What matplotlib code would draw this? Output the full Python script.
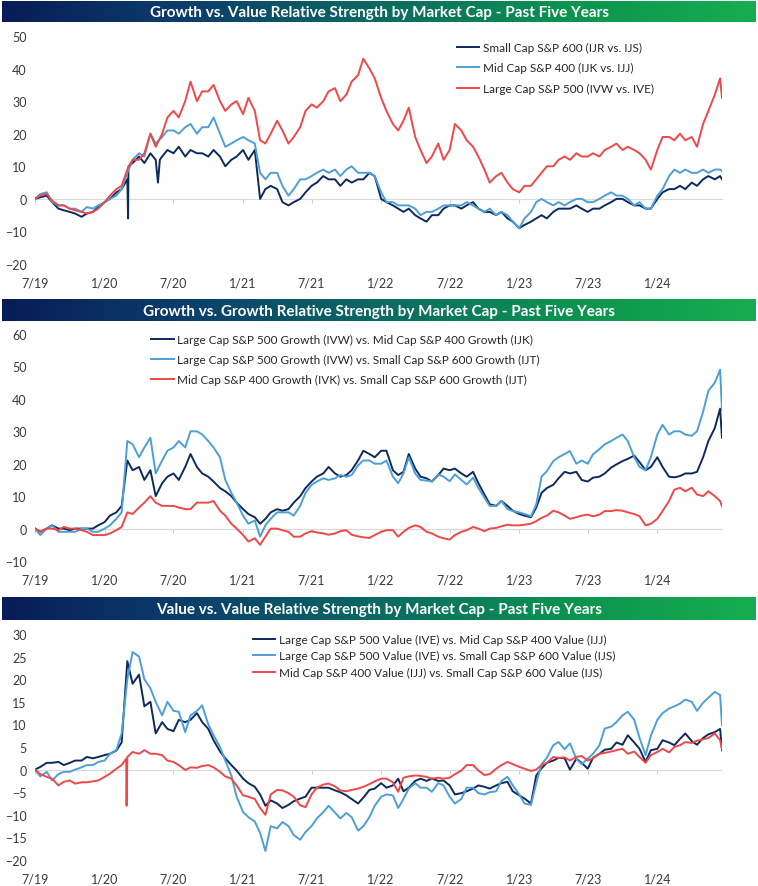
import numpy as np
import pandas as pd
import matplotlib
matplotlib.use('Agg')
import matplotlib.pyplot as plt
import matplotlib.dates as mdates
from matplotlib.ticker import FuncFormatter
from matplotlib.colors import LinearSegmentedColormap

# semi-monthly readings (1st and 15th) plus the final print
dates = list(pd.date_range('2019-07-01', '2024-06-15', freq='SMS')) + [pd.Timestamp('2024-06-20')]

# ---------------- panel 1: growth vs value ----------------
small_gv = [0, 0.5, 1, -1, -3, -3.5, -4, -4.5, -5.5, -4.5,
            -4, -2.5, -1, 0, 2, 3, 6, 11, 13, 11,
            14, 12, 13, 15, 14, 16, 13, 15, 14, 14,
            13, 15, 13, 10, 12, 13, 15, 12, 15, 0,
            3, 4, 3, -1, -2, -1, 0, 2, 4, 5,
            7, 6, 6, 4, 6, 5, 6, 6, 8, 7,
            0, -1, -2, -3, -4, -3, -5, -6, -7, -5,
            -5, -3, -2, -2, -3, -2, -1, -3, -4, -4,
            -5, -4, -6, -7, -9, -8, -7, -6, -5, -6,
            -4, -3, -3, -3, -2, -3, -4, -3, -3, -2,
            -1, 0, 0, -1, -2, -2, -3, -3, 0, 2,
            3, 3, 4, 3, 5, 4, 6, 7, 6, 7,
            6]
small_gv_extra_dates = ['2020-03-03', '2020-03-04', '2020-05-21', '2020-05-26']
small_gv_extra = [-6, 10, 5, 12]

mid_gv = [0, 1.5, 2, -1, -2, -2, -3, -3, -4, -2.5,
          -3, -2, -1, 0, 1, 3, 8, 12, 14, 13,
          20, 17, 19, 21, 21, 20, 22, 23, 20, 22,
          22, 25, 20, 16, 17, 18, 19, 18, 17, 8,
          6, 8, 8, 4, 1, 3, 6, 6, 7, 8,
          9, 8, 9, 7, 9, 10, 8, 8, 8, 7,
          2, -1, -1, -2, -2, -2, -3, -5, -4, -4,
          -3, -2, -2, -2, -2, -1, -2, -3, -4, -3,
          -5, -4, -5, -7, -9, -6, -4, -1, 0, -1,
          -2, -1, -2, -1, 0, 0, -1, -1, 0, 1,
          2, 1, 1, 0, -2, -1, -3, -3, 1, 3,
          7, 9, 8, 9, 8, 8, 9, 8, 9, 9,
          8.5]

large_gv = [0, 1, 1.5, -0.5, -2, -2, -3, -3.5, -4, -4.5,
            -4, -3, -1, 1, 3, 4, 9, 12, 12, 14,
            20, 16, 20, 25, 27, 25, 30, 36, 30, 33,
            33, 35, 30, 27, 29, 30, 26, 31, 27, 18,
            17, 20, 24, 21, 17, 19, 22, 27, 29, 28,
            30, 33, 34, 30, 32, 36, 38, 43, 40, 37,
            31, 27, 23, 21, 24, 28, 19, 15, 11, 13,
            17, 12, 15, 23, 21, 18, 16, 13, 9, 5,
            7, 8, 5, 3, 2, 4, 4, 6, 8, 10,
            10, 12, 13, 12, 14, 13, 13, 14, 13, 15,
            16, 17, 15, 16, 15, 14, 12, 9, 15, 19,
            19, 18, 20, 18, 19, 16, 23, 27, 32, 37,
            31]

# ---------------- panel 2: growth vs growth ----------------
large_mid_g = [0, -1, 0, 1, 0, 0, -0.5, 0, 0, 0,
               0, 1, 2, 4, 5, 7, 21, 18, 19, 15,
               18, 10, 14, 16, 17, 15, 19, 23, 19, 17,
               16, 14.5, 12.5, 11.5, 10, 8, 6, 4.5, 3.5, 1.5,
               3, 5, 6, 5.5, 6, 8, 10, 12.5, 14.5, 16,
               17, 19, 17, 16, 16.5, 18, 21, 24, 23, 22,
               24, 24, 18, 16.5, 17.5, 23, 18.5, 16, 15.5, 14.5,
               16.5, 18.5, 18, 18.5, 17, 16, 17.5, 14, 10.5, 7.5,
               7, 8.5, 7, 5.5, 4.5, 4, 3.5, 6.5, 11, 12.5,
               13.5, 15.5, 17.5, 17, 17.5, 15, 14.5, 15.7, 16, 17,
               18.8, 19.8, 20.8, 21.5, 22.5, 20.5, 18, 19, 22, 19,
               16, 15.8, 16.2, 17, 17, 17.5, 22, 27, 31, 37,
               28]

large_small_g = [0, -2, 0, 1, -1, -1, -1, -1, 0, 0,
                 -1, -1, 0, 1, 3, 5, 27, 26, 22, 25,
                 28, 17, 21, 24, 25, 27, 25, 30, 30, 29,
                 27, 25, 22, 15, 11, 8, 4, 1.5, 2.5, -2.5,
                 1, 3, 5, 5, 5, 4, 7, 11, 13.5, 14.5,
                 15.5, 15, 15.5, 16.5, 16, 16.5, 19.5, 21, 21, 20,
                 20, 21, 16, 14, 17, 22, 17, 15, 14.8, 14.6,
                 16.7, 16, 14.6, 16.7, 15, 13.6, 15.7, 12.6, 9.5, 7,
                 7, 8.5, 6, 5.4, 5, 4.5, 3.8, 7.4, 16, 17.7,
                 20.8, 22, 23, 23.9, 20, 21, 20, 22.9, 24.5, 26,
                 27, 28, 29, 27, 22, 19, 18, 22, 29, 32,
                 29, 30, 30, 29, 28.6, 30, 36, 42.5, 45, 49,
                 36.5]

mid_small_g = [0, -1, 0, 0, -0.5, 0.5, 0, 0, -0.5, -1,
               -2, -2, -2, -1.5, -0.5, 0.5, 5, 4.5, 6.5, 8,
               10, 8, 7, 7, 7, 6.5, 6, 6, 8, 8,
               8, 8.5, 5.5, 4, 1.5, 0, -2, -4, -3, -5,
               -2.5, 0, 0, -0.5, -1, -2.5, -2.5, -1.5, -0.8, -1.2,
               -1.5, -1.9, -1.5, -0.8, -0.5, -1.9, -2.4, -2.7, -2.9, -2,
               -1, -0.5, -0.5, -2.5, -1, 0.2, 1, 0.5, -1, -1.5,
               -2.5, -3, -3.4, -2, -1, -0.5, 0.5, 0, -0.8, 0,
               0.2, 0.7, 1.2, 1, 1, 1.2, 1.5, 2.3, 3.3, 4,
               5.5, 5, 4, 3, 3.5, 4, 4.3, 3.8, 4.3, 5.4,
               5.4, 5.7, 5.5, 5, 4.5, 3.8, 1, 1.5, 3, 5.4,
               8.5, 12, 12.6, 11.5, 12.6, 10.5, 10, 11.5, 10, 8.5,
               6.9]

# ---------------- panel 3: value vs value ----------------
large_mid_v = [0, 0.6, 1.5, 1.5, 1.7, 1, 1.5, 2, 2, 2.8,
               2.5, 2.8, 3.2, 3.5, 4.2, 6, 24, 19, 21, 14,
               15, 8, 10.5, 9, 8.5, 11, 10.5, 11, 12.5, 10.5,
               9, 6.5, 4, 2.5, 1, -0.2, -2, -3, -3.8, -5.5,
               -8, -6.8, -7.5, -8.5, -7.8, -7, -6.4, -6, -4, -4,
               -4, -4, -4.6, -5, -5.7, -6.5, -7.5, -6.2, -4.5, -4.2,
               -3, -4, -3.5, -2, -4.8, -4, -2.5, -2, -2.5, -2,
               -2.5, -2.4, -3.5, -5.5, -5.2, -4.8, -4.2, -3.5, -3.8, -4.2,
               -3.5, -3, -2.7, -4.8, -5.7, -6.4, -7.5, -1.3, 0.3, 1.5,
               2, 2.6, 2.5, 0, 2.4, 1.5, 0.2, 2.6, 3.5, 4.4,
               4.6, 6, 5.5, 7.6, 6, 4.6, 1.7, 4.3, 4.6, 6.5,
               6, 5.4, 6.8, 8, 6.3, 5.5, 7, 7.8, 8.3, 9,
               4.3]

large_small_v = [0, -1.5, -0.5, -2.4, -1, -0.5, -0.5, 0, 0.5, 1,
                 1, 1.7, 2, 3.5, 4.3, 8, 20, 26, 25, 20,
                 18, 15, 12, 15, 13, 12.8, 8.3, 12, 13, 14.2,
                 10, 7.6, 5, 2, -1.3, -6, -9.4, -10.5, -11.5, -14,
                 -18, -12.5, -13, -11.6, -12.5, -14.5, -15.5, -13.8, -12.5, -10.8,
                 -9.4, -8, -9.5, -10.8, -9.6, -10.5, -13.5, -12.5, -10.5, -8,
                 -6, -5.5, -5.7, -8.5, -6.5, -4.2, -3, -4, -4, -4.9,
                 -3, -3.5, -6, -7.5, -6.5, -4, -4, -5.2, -5.5, -5,
                 -4.8, -2.5, -1.6, -3.5, -5.5, -7.5, -7.8, -3, 1.2, 2.6,
                 5.4, 6.1, 4.5, 5.8, 2.4, 1.2, 2.4, 3.5, 5.4, 9.1,
                 9.5, 10.5, 12, 12.8, 11, 7, 3.2, 7.5, 11, 12.5,
                 13.5, 14, 14.6, 15.5, 15, 13, 14.8, 15.9, 17.2, 16.5,
                 9.8]

mid_small_v = [0, -1, -1.6, -2, -3.5, -2.7, -2.4, -3.1, -2.8, -2.8,
               -2.6, -2.4, -1.6, -0.9, 0.2, 1, 2.8, 3.9, 3.5, 4.3,
               3.5, 3.5, 3.2, 2, 1.7, 1, -0.1, 0.5, 0.4, 0.8,
               1, 0.5, -0.5, -1.5, -2, -3.5, -5.7, -6, -6.5, -8.5,
               -10, -5.5, -4.5, -4.6, -5.2, -6, -7.9, -8.3, -5.5, -4,
               -3.3, -3.1, -3.7, -4.6, -4.8, -4.5, -4.2, -3.8, -3.2, -2.6,
               -2, -2, -2.8, -4.9, -1.8, -1.5, -1.3, -1.4, -1.6, -2,
               -1.8, -2, -1.8, -1, -0.2, 1, 1, -0.2, -1.2, -1,
               0.2, 1, 1.7, 1.2, 0.6, 0.2, -0.3, 0, 1, 1.5,
               2.8, 2.6, 2.7, 2, 2.8, 3, 2, 2.5, 3.5, 3.7,
               4, 4.3, 4.6, 3.5, 4, 2.8, 1.5, 3.2, 3.9, 4.6,
               3.8, 5, 5.4, 6.1, 5.9, 6.4, 6.7, 7, 8, 6.5,
               4.6]
mid_small_v_extra_dates = ['2020-02-27', '2020-02-28']
mid_small_v_extra = [2.4, -8]

NAVY = '#0d2a5e'
LIGHT = '#4d9fd6'
RED = '#ee4848'

plt.rcParams['font.family'] = ['Lato', 'DejaVu Sans']

bar_cmap = LinearSegmentedColormap.from_list('bar', ['#081c58', '#0c3f6c', '#0b6a62', '#0c9350', '#16ad4f'])


def series(vals, extra_dates=None, extra_vals=None):
    s = pd.Series(vals, index=pd.DatetimeIndex(dates))
    if extra_dates:
        s = pd.concat([s, pd.Series(extra_vals, index=pd.to_datetime(extra_dates))]).sort_index()
    return s


def title_bar(fig, y0, h, text):
    bax = fig.add_axes([0.003, y0, 0.994, h])
    bax.imshow(np.linspace(0, 1, 256)[None, :], aspect='auto', cmap=bar_cmap, extent=[0, 1, 0, 1])
    bax.set_axis_off()
    bax.text(0.5, 0.47, text, color='white', fontsize=11, fontweight='bold',
             ha='center', va='center', transform=bax.transAxes)


def date_fmt(v, pos):
    d = mdates.num2date(v)
    return f"{d.month}/{d:%y}"


def setup(ax, ylo, yhi, step):
    ax.set_ylim(ylo, yhi)
    ax.set_yticks(np.arange(ylo, yhi + 1, step))
    ax.set_xlim(dates[0], dates[-1])
    for sp in ax.spines.values():
        sp.set_visible(False)
    ax.xaxis.set_major_locator(mdates.MonthLocator(bymonth=[1, 7]))
    ax.xaxis.set_major_formatter(FuncFormatter(date_fmt))
    ax.tick_params(length=0, labelsize=9, labelcolor='#3a3a3a')
    ax.tick_params(axis='y', pad=6)
    ax.tick_params(axis='x', pad=9)
    # zero line with little tick marks, like the Excel axis crossing at 0
    zero = ax.secondary_xaxis((0 - ylo) / (yhi - ylo))
    zero.xaxis.set_major_locator(mdates.MonthLocator(bymonth=[1, 7]))
    zero.tick_params(length=3, color='#cfcfcf', labelbottom=False, labeltop=False)
    for sp in zero.spines.values():
        sp.set_color('#d9d9d9')


fig = plt.figure(figsize=(7.58, 8.87), dpi=100)

# panel 1
title_bar(fig, 0.9741, 0.0237, 'Growth vs. Value Relative Strength by Market Cap - Past Five Years')
ax1 = fig.add_axes([0.0462, 0.7012, 0.9063, 0.2571])
setup(ax1, -20, 50, 10)
s = series(small_gv, small_gv_extra_dates, small_gv_extra)
ax1.plot(s.index, s.values, color=NAVY, lw=1.4, label='Small Cap S&P 600 (IJR vs. IJS)')
s = series(mid_gv)
ax1.plot(s.index, s.values, color=LIGHT, lw=1.4, label='Mid Cap S&P 400 (IJK vs. IJJ)')
s = series(large_gv)
ax1.plot(s.index, s.values, color=RED, lw=1.4, label='Large Cap S&P 500 (IVW vs. IVE)')
ax1.legend(loc='upper left', bbox_to_anchor=(0.614, 0.975), frameon=False, fontsize=8.5,
           handlelength=1.9, handletextpad=0.3, labelspacing=0.8, borderpad=0, borderaxespad=0,
           labelcolor='#262626')

# panel 2
title_bar(fig, 0.6370, 0.0248, 'Growth vs. Growth Relative Strength by Market Cap - Past Five Years')
ax2 = fig.add_axes([0.0462, 0.3664, 0.9063, 0.2559])
setup(ax2, -10, 60, 10)
s = series(large_mid_g)
ax2.plot(s.index, s.values, color=NAVY, lw=1.4,
         label='Large Cap S&P 500 Growth (IVW) vs. Mid Cap S&P 400 Growth (IJK)')
s = series(large_small_g)
ax2.plot(s.index, s.values, color=LIGHT, lw=1.4,
         label='Large Cap S&P 500 Growth (IVW) vs. Small Cap S&P 600 Growth (IJT)')
s = series(mid_small_g)
ax2.plot(s.index, s.values, color=RED, lw=1.4,
         label='Mid Cap S&P 400 Growth (IVK) vs. Small Cap S&P 600 Growth (IJT)')
ax2.legend(loc='upper left', bbox_to_anchor=(0.169, 1.0), frameon=False, fontsize=8.5,
           handlelength=1.9, handletextpad=0.3, labelspacing=0.75, borderpad=0, borderaxespad=0,
           labelcolor='#262626')

# panel 3
title_bar(fig, 0.2999, 0.0259, 'Value vs. Value Relative Strength by Market Cap - Past Five Years')
ax3 = fig.add_axes([0.0462, 0.0293, 0.9063, 0.2548])
setup(ax3, -20, 30, 5)
s = series(large_mid_v)
ax3.plot(s.index, s.values, color=NAVY, lw=1.4,
         label='Large Cap S&P 500 Value (IVE) vs. Mid Cap S&P 400 Value (IJJ)')
s = series(large_small_v)
ax3.plot(s.index, s.values, color=LIGHT, lw=1.4,
         label='Large Cap S&P 500 Value (IVE) vs. Small Cap S&P 600 Value (IJS)')
s = series(mid_small_v, mid_small_v_extra_dates, mid_small_v_extra)
ax3.plot(s.index, s.values, color=RED, lw=1.4,
         label='Mid Cap S&P 400 Value (IJJ) vs. Small Cap S&P 600 Value (IJS)')
ax3.legend(loc='upper left', bbox_to_anchor=(0.317, 1.0), frameon=False, fontsize=8.5,
           handlelength=1.9, handletextpad=0.3, labelspacing=0.45, borderpad=0, borderaxespad=0,
           labelcolor='#262626')

fig.savefig('out.png', dpi=100)
